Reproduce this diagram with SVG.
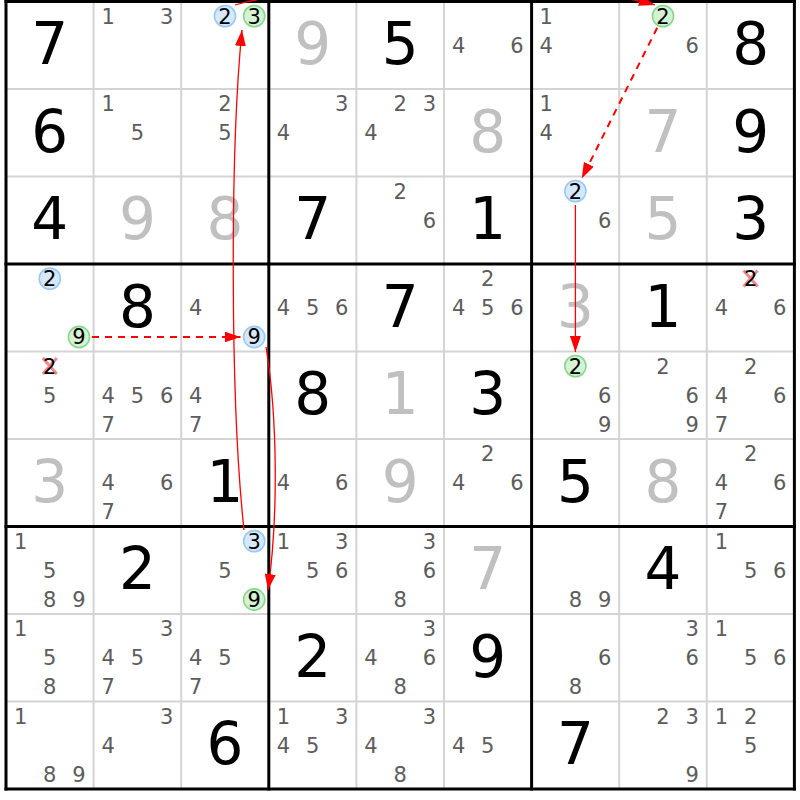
<svg xmlns="http://www.w3.org/2000/svg" width="800" height="800" viewBox="0 0 800 800">
<style>
text{font-family:"DejaVu Sans","Liberation Sans",sans-serif;text-anchor:middle}
.c{font-size:21px;fill:#5c5c5c}
.k{fill:#000}
.b{font-size:58px;fill:#000}
.s{font-size:58px;fill:#c0c0c0}
.thin{stroke:#d4d4d4;stroke-width:2}
.thick{stroke:#000;stroke-width:3;stroke-linecap:square}
.hb{fill:#d6e8fb;stroke:#99c9f4;stroke-width:1.6}
.hg{fill:#d4f2d4;stroke:#88d88a;stroke-width:1.6}
.x{stroke:#f08a8a;stroke-width:3}
.sol{fill:none;stroke:#ff0000;stroke-width:1.3}
.dash{fill:none;stroke:#ff0000;stroke-width:2;stroke-dasharray:7 6}
</style>
<defs>
<marker id="ah" viewBox="0 0 16 11" markerWidth="16" markerHeight="11" refX="16" refY="5.5" markerUnits="userSpaceOnUse" orient="auto">
<path d="M0,0 L16,5.5 L0,11 z" fill="#ff0000"/>
</marker>
</defs>
<rect x="0" y="0" width="800" height="800" fill="#fff"/>
<g id="grid">
<g class="thin">
<line x1="93.6" y1="1.5" x2="93.6" y2="789"/>
<line x1="181.2" y1="1.5" x2="181.2" y2="789"/>
<line x1="356.4" y1="1.5" x2="356.4" y2="789"/>
<line x1="444" y1="1.5" x2="444" y2="789"/>
<line x1="619.2" y1="1.5" x2="619.2" y2="789"/>
<line x1="706.8" y1="1.5" x2="706.8" y2="789"/>
<line x1="6" y1="89" x2="794.4" y2="89"/>
<line x1="6" y1="176.5" x2="794.4" y2="176.5"/>
<line x1="6" y1="351.5" x2="794.4" y2="351.5"/>
<line x1="6" y1="439" x2="794.4" y2="439"/>
<line x1="6" y1="614" x2="794.4" y2="614"/>
<line x1="6" y1="701.5" x2="794.4" y2="701.5"/>
</g>
<g class="thick">
<line x1="6" y1="1.5" x2="6" y2="789"/>
<line x1="268.8" y1="1.5" x2="268.8" y2="789"/>
<line x1="531.6" y1="1.5" x2="531.6" y2="789"/>
<line x1="794.4" y1="1.5" x2="794.4" y2="789"/>
<line x1="6" y1="1.5" x2="794.4" y2="1.5"/>
<line x1="6" y1="264" x2="794.4" y2="264"/>
<line x1="6" y1="526.5" x2="794.4" y2="526.5"/>
<line x1="6" y1="789" x2="794.4" y2="789"/>
</g>
</g>

<!-- row 0 -->
<g id="r0c0" transform="translate(6,1.5)"><text class="b" x="43.8" y="62.5">7</text></g>
<g id="r0c1" transform="translate(93.6,1.5)"><text class="c" x="14.6" y="22">1</text><text class="c" x="73" y="22">3</text></g>
<g id="r0c2" transform="translate(181.2,1.5)"><circle class="hb" cx="43.8" cy="14.6" r="10.6"/><circle class="hg" cx="73" cy="14.6" r="10.6"/><text class="c k" x="43.8" y="22">2</text><text class="c k" x="73" y="22">3</text></g>
<g id="r0c3" transform="translate(268.8,1.5)"><text class="s" x="43.8" y="62.5">9</text></g>
<g id="r0c4" transform="translate(356.4,1.5)"><text class="b" x="43.8" y="62.5">5</text></g>
<g id="r0c5" transform="translate(444,1.5)"><text class="c" x="14.6" y="51.2">4</text><text class="c" x="73" y="51.2">6</text></g>
<g id="r0c6" transform="translate(531.6,1.5)"><text class="c" x="14.6" y="22">1</text><text class="c" x="14.6" y="51.2">4</text></g>
<g id="r0c7" transform="translate(619.2,1.5)"><circle class="hg" cx="43.8" cy="14.6" r="10.6"/><text class="c k" x="43.8" y="22">2</text><text class="c" x="73" y="51.2">6</text></g>
<g id="r0c8" transform="translate(706.8,1.5)"><text class="b" x="43.8" y="62.5">8</text></g>

<!-- row 1 -->
<g id="r1c0" transform="translate(6,89)"><text class="b" x="43.8" y="62.5">6</text></g>
<g id="r1c1" transform="translate(93.6,89)"><text class="c" x="14.6" y="22">1</text><text class="c" x="43.8" y="51.2">5</text></g>
<g id="r1c2" transform="translate(181.2,89)"><text class="c" x="43.8" y="22">2</text><text class="c" x="43.8" y="51.2">5</text></g>
<g id="r1c3" transform="translate(268.8,89)"><text class="c" x="73" y="22">3</text><text class="c" x="14.6" y="51.2">4</text></g>
<g id="r1c4" transform="translate(356.4,89)"><text class="c" x="43.8" y="22">2</text><text class="c" x="73" y="22">3</text><text class="c" x="14.6" y="51.2">4</text></g>
<g id="r1c5" transform="translate(444,89)"><text class="s" x="43.8" y="62.5">8</text></g>
<g id="r1c6" transform="translate(531.6,89)"><text class="c" x="14.6" y="22">1</text><text class="c" x="14.6" y="51.2">4</text></g>
<g id="r1c7" transform="translate(619.2,89)"><text class="s" x="43.8" y="62.5">7</text></g>
<g id="r1c8" transform="translate(706.8,89)"><text class="b" x="43.8" y="62.5">9</text></g>

<!-- row 2 -->
<g id="r2c0" transform="translate(6,176.5)"><text class="b" x="43.8" y="62.5">4</text></g>
<g id="r2c1" transform="translate(93.6,176.5)"><text class="s" x="43.8" y="62.5">9</text></g>
<g id="r2c2" transform="translate(181.2,176.5)"><text class="s" x="43.8" y="62.5">8</text></g>
<g id="r2c3" transform="translate(268.8,176.5)"><text class="b" x="43.8" y="62.5">7</text></g>
<g id="r2c4" transform="translate(356.4,176.5)"><text class="c" x="43.8" y="22">2</text><text class="c" x="73" y="51.2">6</text></g>
<g id="r2c5" transform="translate(444,176.5)"><text class="b" x="43.8" y="62.5">1</text></g>
<g id="r2c6" transform="translate(531.6,176.5)"><circle class="hb" cx="43.8" cy="14.6" r="10.6"/><text class="c k" x="43.8" y="22">2</text><text class="c" x="73" y="51.2">6</text></g>
<g id="r2c7" transform="translate(619.2,176.5)"><text class="s" x="43.8" y="62.5">5</text></g>
<g id="r2c8" transform="translate(706.8,176.5)"><text class="b" x="43.8" y="62.5">3</text></g>

<!-- row 3 -->
<g id="r3c0" transform="translate(6,264)"><circle class="hb" cx="43.8" cy="14.6" r="10.6"/><circle class="hg" cx="73" cy="73" r="10.6"/><text class="c k" x="43.8" y="22">2</text><text class="c k" x="73" y="80.4">9</text></g>
<g id="r3c1" transform="translate(93.6,264)"><text class="b" x="43.8" y="62.5">8</text></g>
<g id="r3c2" transform="translate(181.2,264)"><circle class="hb" cx="73" cy="73" r="10.6"/><text class="c" x="14.6" y="51.2">4</text><text class="c k" x="73" y="80.4">9</text></g>
<g id="r3c3" transform="translate(268.8,264)"><text class="c" x="14.6" y="51.2">4</text><text class="c" x="43.8" y="51.2">5</text><text class="c" x="73" y="51.2">6</text></g>
<g id="r3c4" transform="translate(356.4,264)"><text class="b" x="43.8" y="62.5">7</text></g>
<g id="r3c5" transform="translate(444,264)"><text class="c" x="43.8" y="22">2</text><text class="c" x="14.6" y="51.2">4</text><text class="c" x="43.8" y="51.2">5</text><text class="c" x="73" y="51.2">6</text></g>
<g id="r3c6" transform="translate(531.6,264)"><text class="s" x="43.8" y="62.5">3</text></g>
<g id="r3c7" transform="translate(619.2,264)"><text class="b" x="43.8" y="62.5">1</text></g>
<g id="r3c8" transform="translate(706.8,264)"><path class="x" d="M36.8,6.6 L50.8,22.6 M50.8,6.6 L36.8,22.6"/><text class="c k" x="43.8" y="22">2</text><text class="c" x="14.6" y="51.2">4</text><text class="c" x="73" y="51.2">6</text></g>

<!-- row 4 -->
<g id="r4c0" transform="translate(6,351.5)"><path class="x" d="M36.8,6.6 L50.8,22.6 M50.8,6.6 L36.8,22.6"/><text class="c k" x="43.8" y="22">2</text><text class="c" x="43.8" y="51.2">5</text></g>
<g id="r4c1" transform="translate(93.6,351.5)"><text class="c" x="14.6" y="51.2">4</text><text class="c" x="43.8" y="51.2">5</text><text class="c" x="73" y="51.2">6</text><text class="c" x="14.6" y="80.4">7</text></g>
<g id="r4c2" transform="translate(181.2,351.5)"><text class="c" x="14.6" y="51.2">4</text><text class="c" x="14.6" y="80.4">7</text></g>
<g id="r4c3" transform="translate(268.8,351.5)"><text class="b" x="43.8" y="62.5">8</text></g>
<g id="r4c4" transform="translate(356.4,351.5)"><text class="s" x="43.8" y="62.5">1</text></g>
<g id="r4c5" transform="translate(444,351.5)"><text class="b" x="43.8" y="62.5">3</text></g>
<g id="r4c6" transform="translate(531.6,351.5)"><circle class="hg" cx="43.8" cy="14.6" r="10.6"/><text class="c k" x="43.8" y="22">2</text><text class="c" x="73" y="51.2">6</text><text class="c" x="73" y="80.4">9</text></g>
<g id="r4c7" transform="translate(619.2,351.5)"><text class="c" x="43.8" y="22">2</text><text class="c" x="73" y="51.2">6</text><text class="c" x="73" y="80.4">9</text></g>
<g id="r4c8" transform="translate(706.8,351.5)"><text class="c" x="43.8" y="22">2</text><text class="c" x="14.6" y="51.2">4</text><text class="c" x="73" y="51.2">6</text><text class="c" x="14.6" y="80.4">7</text></g>

<!-- row 5 -->
<g id="r5c0" transform="translate(6,439)"><text class="s" x="43.8" y="62.5">3</text></g>
<g id="r5c1" transform="translate(93.6,439)"><text class="c" x="14.6" y="51.2">4</text><text class="c" x="73" y="51.2">6</text><text class="c" x="14.6" y="80.4">7</text></g>
<g id="r5c2" transform="translate(181.2,439)"><text class="b" x="43.8" y="62.5">1</text></g>
<g id="r5c3" transform="translate(268.8,439)"><text class="c" x="14.6" y="51.2">4</text><text class="c" x="73" y="51.2">6</text></g>
<g id="r5c4" transform="translate(356.4,439)"><text class="s" x="43.8" y="62.5">9</text></g>
<g id="r5c5" transform="translate(444,439)"><text class="c" x="43.8" y="22">2</text><text class="c" x="14.6" y="51.2">4</text><text class="c" x="73" y="51.2">6</text></g>
<g id="r5c6" transform="translate(531.6,439)"><text class="b" x="43.8" y="62.5">5</text></g>
<g id="r5c7" transform="translate(619.2,439)"><text class="s" x="43.8" y="62.5">8</text></g>
<g id="r5c8" transform="translate(706.8,439)"><text class="c" x="43.8" y="22">2</text><text class="c" x="14.6" y="51.2">4</text><text class="c" x="73" y="51.2">6</text><text class="c" x="14.6" y="80.4">7</text></g>

<!-- row 6 -->
<g id="r6c0" transform="translate(6,526.5)"><text class="c" x="14.6" y="22">1</text><text class="c" x="43.8" y="51.2">5</text><text class="c" x="43.8" y="80.4">8</text><text class="c" x="73" y="80.4">9</text></g>
<g id="r6c1" transform="translate(93.6,526.5)"><text class="b" x="43.8" y="62.5">2</text></g>
<g id="r6c2" transform="translate(181.2,526.5)"><circle class="hb" cx="73" cy="14.6" r="10.6"/><circle class="hg" cx="73" cy="73" r="10.6"/><text class="c k" x="73" y="22">3</text><text class="c" x="43.8" y="51.2">5</text><text class="c k" x="73" y="80.4">9</text></g>
<g id="r6c3" transform="translate(268.8,526.5)"><text class="c" x="14.6" y="22">1</text><text class="c" x="73" y="22">3</text><text class="c" x="43.8" y="51.2">5</text><text class="c" x="73" y="51.2">6</text></g>
<g id="r6c4" transform="translate(356.4,526.5)"><text class="c" x="73" y="22">3</text><text class="c" x="73" y="51.2">6</text><text class="c" x="43.8" y="80.4">8</text></g>
<g id="r6c5" transform="translate(444,526.5)"><text class="s" x="43.8" y="62.5">7</text></g>
<g id="r6c6" transform="translate(531.6,526.5)"><text class="c" x="43.8" y="80.4">8</text><text class="c" x="73" y="80.4">9</text></g>
<g id="r6c7" transform="translate(619.2,526.5)"><text class="b" x="43.8" y="62.5">4</text></g>
<g id="r6c8" transform="translate(706.8,526.5)"><text class="c" x="14.6" y="22">1</text><text class="c" x="43.8" y="51.2">5</text><text class="c" x="73" y="51.2">6</text></g>

<!-- row 7 -->
<g id="r7c0" transform="translate(6,614)"><text class="c" x="14.6" y="22">1</text><text class="c" x="43.8" y="51.2">5</text><text class="c" x="43.8" y="80.4">8</text></g>
<g id="r7c1" transform="translate(93.6,614)"><text class="c" x="73" y="22">3</text><text class="c" x="14.6" y="51.2">4</text><text class="c" x="43.8" y="51.2">5</text><text class="c" x="14.6" y="80.4">7</text></g>
<g id="r7c2" transform="translate(181.2,614)"><text class="c" x="14.6" y="51.2">4</text><text class="c" x="43.8" y="51.2">5</text><text class="c" x="14.6" y="80.4">7</text></g>
<g id="r7c3" transform="translate(268.8,614)"><text class="b" x="43.8" y="62.5">2</text></g>
<g id="r7c4" transform="translate(356.4,614)"><text class="c" x="73" y="22">3</text><text class="c" x="14.6" y="51.2">4</text><text class="c" x="73" y="51.2">6</text><text class="c" x="43.8" y="80.4">8</text></g>
<g id="r7c5" transform="translate(444,614)"><text class="b" x="43.8" y="62.5">9</text></g>
<g id="r7c6" transform="translate(531.6,614)"><text class="c" x="73" y="51.2">6</text><text class="c" x="43.8" y="80.4">8</text></g>
<g id="r7c7" transform="translate(619.2,614)"><text class="c" x="73" y="22">3</text><text class="c" x="73" y="51.2">6</text></g>
<g id="r7c8" transform="translate(706.8,614)"><text class="c" x="14.6" y="22">1</text><text class="c" x="43.8" y="51.2">5</text><text class="c" x="73" y="51.2">6</text></g>

<!-- row 8 -->
<g id="r8c0" transform="translate(6,701.5)"><text class="c" x="14.6" y="22">1</text><text class="c" x="43.8" y="80.4">8</text><text class="c" x="73" y="80.4">9</text></g>
<g id="r8c1" transform="translate(93.6,701.5)"><text class="c" x="73" y="22">3</text><text class="c" x="14.6" y="51.2">4</text></g>
<g id="r8c2" transform="translate(181.2,701.5)"><text class="b" x="43.8" y="62.5">6</text></g>
<g id="r8c3" transform="translate(268.8,701.5)"><text class="c" x="14.6" y="22">1</text><text class="c" x="73" y="22">3</text><text class="c" x="14.6" y="51.2">4</text><text class="c" x="43.8" y="51.2">5</text></g>
<g id="r8c4" transform="translate(356.4,701.5)"><text class="c" x="73" y="22">3</text><text class="c" x="14.6" y="51.2">4</text><text class="c" x="43.8" y="80.4">8</text></g>
<g id="r8c5" transform="translate(444,701.5)"><text class="c" x="14.6" y="51.2">4</text><text class="c" x="43.8" y="51.2">5</text></g>
<g id="r8c6" transform="translate(531.6,701.5)"><text class="b" x="43.8" y="62.5">7</text></g>
<g id="r8c7" transform="translate(619.2,701.5)"><text class="c" x="43.8" y="22">2</text><text class="c" x="73" y="22">3</text><text class="c" x="73" y="80.4">9</text></g>
<g id="r8c8" transform="translate(706.8,701.5)"><text class="c" x="14.6" y="22">1</text><text class="c" x="43.8" y="22">2</text><text class="c" x="43.8" y="51.2">5</text></g>

<g id="connectors">
<path class="sol" d="M244,530 C230,400 230,150 242,30" marker-end="url(#ah)"/>
<path class="sol" d="M235,5 C320,-20 570,-20 655,5" marker-end="url(#ah)"/>
<path class="dash" d="M657.2,27.7 L581.7,178.6" marker-end="url(#ah)"/>
<path class="sol" d="M575.4,205 L575.4,352" marker-end="url(#ah)"/>
<path class="dash" d="M92,337 L240.5,337" marker-end="url(#ah)"/>
<path class="sol" d="M266,347 C278,420 278,520 268,590" marker-end="url(#ah)"/>
</g>
</svg>
